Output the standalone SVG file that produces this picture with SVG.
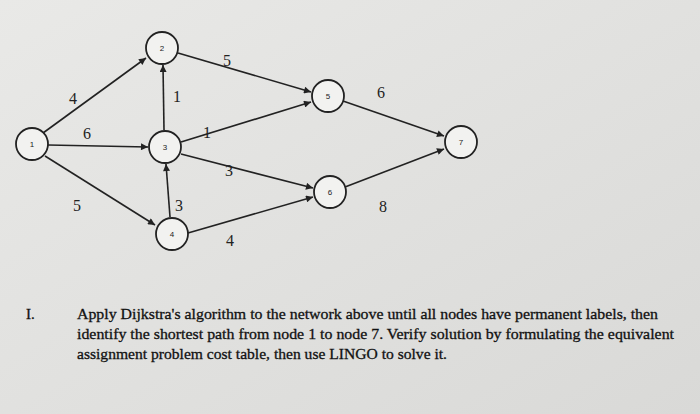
<svg xmlns="http://www.w3.org/2000/svg" width="700" height="414" viewBox="0 0 700 414">
<defs>
<linearGradient id="bg" x1="0" y1="0" x2="1" y2="1"><stop offset="0" stop-color="#e9e9e7"/><stop offset="1" stop-color="#d9d9d7"/></linearGradient>
<marker id="ar" viewBox="0 0 10 10" refX="10" refY="5" markerWidth="9" markerHeight="7" orient="auto" markerUnits="userSpaceOnUse"><path d="M0,0L10,5L0,10z" fill="#222"/></marker>
</defs>
<style>
.n circle{fill:#f2f2f0;stroke:#222;stroke-width:1.8}
.n text{font-family:"Liberation Sans",sans-serif;font-size:8px;text-anchor:middle;fill:#222}
.e line{stroke:#222;stroke-width:1.6;marker-end:url(#ar)}
.l{font-family:"Liberation Serif",serif;font-size:16px;fill:#222;text-anchor:middle}
.p{font-family:"Liberation Serif",serif;font-size:15px;fill:#111;stroke:#111;stroke-width:0.3}
</style>
<rect width="700" height="414" fill="url(#bg)"/>
<g id="edges" class="e">
<line x1="43" y1="133" x2="146" y2="58"/>
<line x1="48" y1="145" x2="148" y2="147"/>
<line x1="45" y1="156" x2="155" y2="225"/>
<line x1="178" y1="53" x2="311" y2="92"/>
<line x1="164" y1="130" x2="163" y2="65"/>
<line x1="181" y1="142" x2="311" y2="102"/>
<line x1="181" y1="154" x2="313" y2="188"/>
<line x1="170" y1="217" x2="166" y2="164"/>
<line x1="188" y1="233" x2="313" y2="197"/>
<line x1="343" y1="101" x2="444" y2="136"/>
<line x1="345" y1="187" x2="444" y2="149"/>
</g>
<g id="labels">
<text class="l" x="73" y="104">4</text>
<text class="l" x="87" y="139">6</text>
<text class="l" x="77" y="211">5</text>
<text class="l" x="227" y="66">5</text>
<text class="l" x="177" y="102">1</text>
<text class="l" x="207" y="138">1</text>
<text class="l" x="229" y="176">3</text>
<text class="l" x="179" y="211">3</text>
<text class="l" x="230" y="246">4</text>
<text class="l" x="381" y="98">6</text>
<text class="l" x="383" y="212">8</text>
</g>
<g id="n1" class="n"><circle cx="32" cy="144" r="16"/><text x="32" y="147">1</text></g>
<g id="n2" class="n"><circle cx="162" cy="48" r="16"/><text x="162" y="51">2</text></g>
<g id="n3" class="n"><circle cx="165" cy="147" r="16"/><text x="165" y="150">3</text></g>
<g id="n4" class="n"><circle cx="172" cy="234" r="16"/><text x="172" y="237">4</text></g>
<g id="n5" class="n"><circle cx="328" cy="96" r="16"/><text x="328" y="99">5</text></g>
<g id="n6" class="n"><circle cx="330" cy="192" r="16"/><text x="330" y="195">6</text></g>
<g id="n7" class="n"><circle cx="461" cy="142" r="16"/><text x="461" y="145">7</text></g>
<text class="p" x="26" y="319">I.</text>
<text class="p" x="77" y="319" textLength="581" lengthAdjust="spacingAndGlyphs">Apply Dijkstra's algorithm to the network above until all nodes have permanent labels, then</text>
<text class="p" x="77" y="339" textLength="597" lengthAdjust="spacingAndGlyphs">identify the shortest path from node 1 to node 7. Verify solution by formulating the equivalent</text>
<text class="p" x="77" y="359" textLength="370" lengthAdjust="spacingAndGlyphs">assignment problem cost table, then use LINGO to solve it.</text>
</svg>
